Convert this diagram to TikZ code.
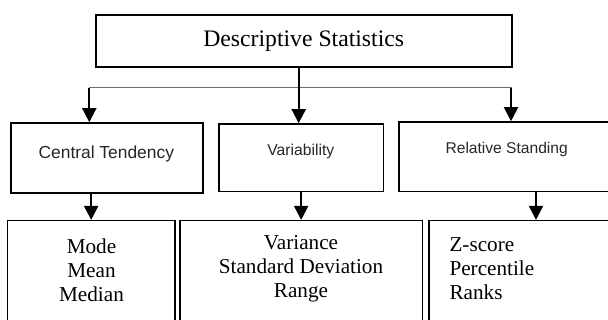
\documentclass[tikz,border=0pt]{standalone}
\usepackage{fontspec}
\setmainfont{Liberation Serif}
\setsansfont{Liberation Sans}
\usetikzlibrary{arrows.meta}

\definecolor{barblue}{HTML}{4472C4}

\tikzset{
  box/.style={draw, line width=1.6pt, inner sep=0pt},
  link/.style={line width=2pt, -{Triangle[width=14pt,length=14pt]}},
  bar/.style={draw=barblue, line width=1pt},
  headtext/.style={font=\fontsize{23.7}{28}\selectfont},
  midtext/.style={inner sep=0pt, text=black!85, font=\sffamily\fontsize{#1}{18}\selectfont},
  listtext/.style={inner sep=0pt, font=\fontsize{21.2}{24}\selectfont},
}

\begin{document}
\begin{tikzpicture}[x=1pt,y=1pt]
      \useasboundingbox (0,0) rectangle (608,-320);
      \clip (0,0) rectangle (608,-320);

      % top box
      \node[box, headtext, minimum width=416pt, minimum height=52pt] (desc) at (303.7,-41.3) {Descriptive Statistics};

      % middle row
      \node[box, minimum width=192.3pt, minimum height=70pt] (ct) at (106.85,-158) {};
      \node[box, minimum width=164.3pt, minimum height=67.7pt] (var) at (301.15,-157.85) {};
      \node[box, minimum width=241pt, minimum height=69.7pt] (rel) at (519.5,-156.85) {};
      \node[midtext=17.4] (ctText) at (106.3,-154) {Central Tendency};
      \node[midtext=15.7] (varText) at (300.8,-151) {Variability};
      \node[midtext=15.6] (relText) at (506.7,-149) {Relative Standing};

      % bottom row
      \node[box, minimum width=167.7pt, minimum height=129.3pt] (mode) at (91.15,-285.35) {};
      \node[box, minimum width=242.3pt, minimum height=129.3pt] (spread) at (301.15,-285.35) {};
      \node[box, minimum width=221pt, minimum height=129.3pt] (zbox) at (539.5,-285.35) {};
      \node[listtext, align=center] (modeText) at (91.5,-270) {Mode\\Mean\\Median};
      \node[listtext, align=center] (spreadText) at (301,-268.7) {Variance\\Standard Deviation\\Range};
      \node[listtext, align=left, anchor=west] (zText) at (449.3,-268.7) {Z-score\\Percentile\\Ranks};

      % connectors
      \coordinate (barL) at (89.3,-88);
      \coordinate (barR) at (511.7,-88);
      \draw[bar] (barL) -- (barR);
      \begin{scope}[link]
        \draw ([xshift=-5pt]desc.south) -- ([xshift=-5pt]desc.south |- var.north);
        \draw (barL) -- (barL |- ct.north);
        \draw ([xshift=-0.7pt]barR) -- ([xshift=-0.7pt]barR |- rel.north);
        \draw (mode.north |- ct.south) -- (mode.north);
        \draw (var.south) -- (spread.north);
        \draw ([xshift=-3.5pt]zbox.north |- rel.south) -- ([xshift=-3.5pt]zbox.north);
      \end{scope}
\end{tikzpicture}
\end{document}
